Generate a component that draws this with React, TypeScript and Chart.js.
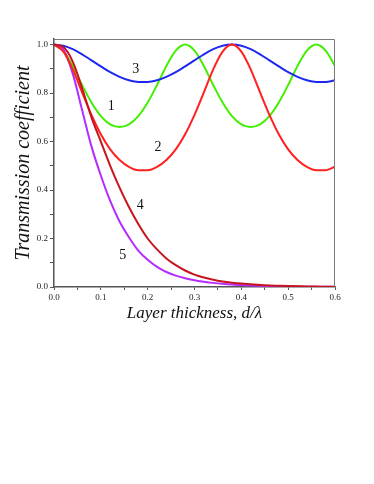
import React, { useEffect, useRef } from "react";
import { Chart, registerables } from "chart.js";

Chart.register(...registerables);

const xs = [0, 0.02, 0.04, 0.06, 0.08, 0.1, 0.12, 0.14, 0.16, 0.18, 0.2, 0.22, 0.24, 0.26, 0.28, 0.3,
  0.32, 0.34, 0.36, 0.38, 0.4, 0.42, 0.44, 0.46, 0.48, 0.5, 0.52, 0.54, 0.56, 0.58, 0.6];

const curve1 = [1.0, 0.975, 0.912, 0.833, 0.761, 0.705, 0.671, 0.66, 0.671, 0.705, 0.761, 0.833, 0.912, 0.975, 1.0, 0.975,
  0.912, 0.833, 0.761, 0.705, 0.671, 0.66, 0.671, 0.705, 0.761, 0.833, 0.912, 0.975, 1.0, 0.975, 0.912];

const curve2 = [1.0, 0.971, 0.898, 0.803, 0.71, 0.63, 0.568, 0.524, 0.496, 0.482, 0.482, 0.496, 0.524, 0.568, 0.63, 0.71,
  0.803, 0.898, 0.971, 1.0, 0.971, 0.898, 0.803, 0.71, 0.63, 0.568, 0.524, 0.496, 0.482, 0.482, 0.496];

const curve3 = [1.0, 0.995, 0.981, 0.96, 0.935, 0.91, 0.886, 0.867, 0.853, 0.846, 0.846, 0.853, 0.867, 0.886, 0.91, 0.935,
  0.96, 0.981, 0.995, 1.0, 0.995, 0.981, 0.96, 0.935, 0.91, 0.886, 0.867, 0.853, 0.846, 0.846, 0.853];

const curve4 = [1.0, 0.99, 0.93, 0.82, 0.7, 0.6, 0.5, 0.41, 0.33, 0.26, 0.2, 0.155, 0.118, 0.09, 0.068, 0.051,
  0.039, 0.03, 0.023, 0.018, 0.014, 0.011, 0.008, 0.006, 0.005, 0.004, 0.003, 0.002, 0.002, 0.001, 0.001];

const curve5 = [1.0, 0.98, 0.88, 0.73, 0.58, 0.46, 0.355, 0.27, 0.205, 0.15, 0.112, 0.083, 0.062, 0.047, 0.036, 0.028,
  0.022, 0.017, 0.013, 0.01, 0.008, 0.006, 0.005, 0.004, 0.003, 0.002, 0.002, 0.001, 0.001, 0.001, 0.0005];

const curveLabels = ["1", "2", "3", "4", "5"];
const labelX = [0.122, 0.222, 0.1745, 0.184, 0.147];
const labelY = [0.746, 0.576, 0.896, 0.337, 0.131];

const SERIF = "'Liberation Serif', 'DejaVu Serif', serif";

export default function App() {
  const ref = useRef<HTMLCanvasElement | null>(null);

  useEffect(() => {
    if (!ref.current) return;
    const mk = (ys: number[]) => xs.map((x, i) => ({ x, y: ys[i] }));
    const line = (data: number[], color: string) => ({
      data: mk(data),
      borderColor: color,
      backgroundColor: color,
      borderWidth: 2,
      pointRadius: 0,
      fill: false,
      cubicInterpolationMode: "monotone" as const,
    });

    const boxPlugin = {
      id: "boxAndLabels",
      afterDatasetsDraw(chart: any) {
        const { ctx, chartArea, scales } = chart;
        ctx.save();
        ctx.strokeStyle = "#7a7a7a";
        ctx.lineWidth = 1;
        ctx.beginPath();
        ctx.moveTo(chartArea.left, chartArea.top + 0.5);
        ctx.lineTo(chartArea.right - 0.5, chartArea.top + 0.5);
        ctx.lineTo(chartArea.right - 0.5, chartArea.bottom);
        ctx.stroke();
        ctx.fillStyle = "#111";
        ctx.font = `14px ${SERIF}`;
        ctx.textAlign = "center";
        ctx.textBaseline = "middle";
        curveLabels.forEach((t, i) => {
          ctx.fillText(t, scales.x.getPixelForValue(labelX[i]), scales.y.getPixelForValue(labelY[i]));
        });
        ctx.restore();
      },
    };

    const chart = new Chart(ref.current, {
      type: "line",
      data: {
        datasets: [
          line(curve4, "#c8141e"),
          line(curve2, "#ff2020"),
          line(curve5, "#b42cff"),
          line(curve3, "#1c28f0"),
          line(curve1, "#44ee00"),
        ],
      },
      options: {
        animation: false,
        responsive: false,
        maintainAspectRatio: false,
        events: [],
        layout: { padding: { left: 0, right: 39, top: 39, bottom: 152 } },
        plugins: { legend: { display: false }, tooltip: { enabled: false }, title: { display: false } },
        scales: {
          x: {
            type: "linear",
            min: 0,
            max: 0.6,
            afterFit: (s: any) => { s.height = 45; },
            ticks: {
              stepSize: 0.05,
              autoSkip: false,
              maxRotation: 0,
              includeBounds: false,
              padding: 2,
              color: "#222",
              font: { family: SERIF, size: 9 },
              callback: (v: any) => (Math.round(Number(v) * 20) % 2 === 0 ? Number(v).toFixed(1) : ""),
            },
            grid: { drawOnChartArea: false, drawTicks: true, tickLength: 3, color: "#555" },
            border: { display: true, color: "#555", width: 1.5 },
            title: {
              display: true,
              text: "Layer thickness, d/λ",
              color: "#111",
              font: { family: SERIF, size: 17, style: "italic" },
              padding: { top: 0, bottom: 8 },
            },
          },
          y: {
            type: "linear",
            min: 0,
            max: 1.023,
            afterFit: (s: any) => { s.width = 54; },
            ticks: {
              stepSize: 0.1,
              autoSkip: false,
              includeBounds: false,
              padding: 2,
              color: "#222",
              font: { family: SERIF, size: 9 },
              callback: (v: any) => (Math.round(Number(v) * 10) % 2 === 0 ? Number(v).toFixed(1) : ""),
            },
            grid: { drawOnChartArea: false, drawTicks: true, tickLength: 4, color: "#555" },
            border: { display: true, color: "#555", width: 1.5 },
            title: {
              display: true,
              text: "Transmission coefficient",
              color: "#111",
              font: { family: SERIF, size: 20, style: "italic" },
              padding: { top: 12, bottom: 0 },
            },
          },
        },
      },
      plugins: [boxPlugin],
    });
    return () => chart.destroy();
  }, []);

  return (
    <div style={{ position: "absolute", left: 0, top: 0, width: 374, height: 484, background: "#fff" }}>
      <canvas ref={ref} width={374} height={484} style={{ width: 374, height: 484, display: "block" }} />
    </div>
  );
}
